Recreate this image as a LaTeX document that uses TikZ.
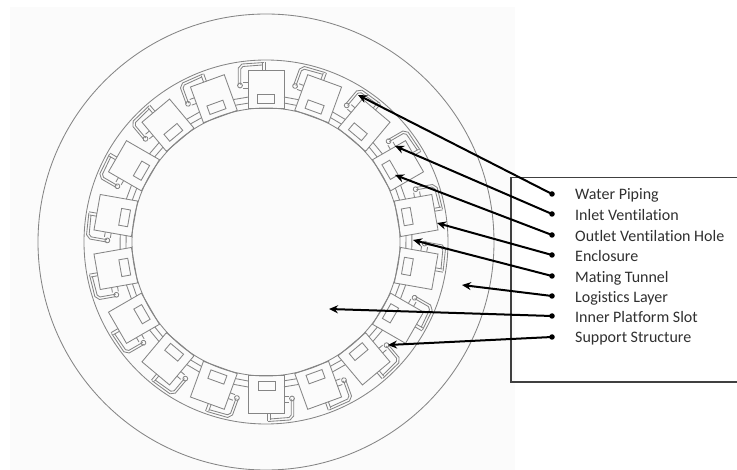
\documentclass[tikz,border=0pt]{standalone}
\usepackage{fontspec}
\setmainfont{Carlito}[Ligatures=NoCommon]
\usetikzlibrary{arrows.meta}
\definecolor{linegray}{HTML}{858585}
\definecolor{inktext}{HTML}{303030}
\definecolor{paneltint}{HTML}{FBFBFB}
\tikzset{
  part/.style={draw=linegray,line width=0.85pt},
  callout/.style={draw=black,line width=2pt,-{Stealth[length=9pt,width=8pt]}},
  dotpin/.style={circle,fill=black,inner sep=0pt,minimum size=5.5pt},
  lab/.style={anchor=base west,inner sep=0pt,font=\fontsize{16}{18}\selectfont,text=inktext},
}
\begin{document}
\begin{tikzpicture}[x=1pt,y=-1pt]
\useasboundingbox (0,0) rectangle (737,470);
\fill[white] (0,0) rectangle (737,470);
\fill[paneltint] (10,7) rectangle (515,470);
\coordinate (c) at (266,242);
\begin{scope}
\clip (0,0) rectangle (737,470);
\draw[part] (c) circle[radius=228pt];
\draw[part] (c) circle[radius=182pt];
\draw[part] (c) circle[radius=134pt];
\end{scope}
\foreach \k in {0,...,17}{
\begin{scope}[shift={(c)},rotate=20*\k]
  % enclosure and hole
  \draw[part] (-18,-171.5) rectangle (18,-133.5);
  \draw[part] (-9,-148) rectangle (8,-139);
  % mating tunnel to next module
  \draw[part] (18,-139) -- (30.5,-136.6);
  \draw[part] (18,-145) -- (32.6,-142.3);
  % water piping
  \draw[part] (-27.7,-157) -- (-27.7,-174) -- (-24,-178) -- (-2,-179.5);
  \draw[part] (-25.3,-157) -- (-25.3,-173) -- (-23,-175.5) -- (-4,-177);
  \draw[part] (-4,-178.5) -- (-4,-171.5);
  \draw[part] (-1,-179.5) -- (-1,-171.5);
  % ventilation fitting
  \draw[part] (-23,-160) -- (-18,-160);
  \draw[part] (-23,-154) -- (-18,-154);
  \draw[part] (-26,-156.5) circle[radius=2.4pt];
\end{scope}
}
% legend box, open toward the right margin
\draw[draw=black!75,line width=1.2pt] (737,177.5) -- (511,177.5) -- (511,382) -- (737,382);
% labels
\node[lab] (l1) at (575,200) {Water Piping};
\node[lab] (l2) at (575,220.5) {Inlet Ventilation};
\node[lab] (l3) at (575,241.5) {Outlet Ventilation Hole};
\node[lab] (l4) at (575,261.5) {Enclosure};
\node[lab] (l5) at (575,282.5) {Mating Tunnel};
\node[lab] (l6) at (575,302.5) {Logistics Layer};
\node[lab] (l7) at (575,322.5) {Inner Platform Slot};
\node[lab] (l8) at (575,343) {Support Structure};
% pins
\node[dotpin] (p1) at (552,194) {};
\node[dotpin] (p2) at (552,214) {};
\node[dotpin] (p3) at (552,235) {};
\node[dotpin] (p4) at (552,255) {};
\node[dotpin] (p5) at (552,276) {};
\node[dotpin] (p6) at (552,296) {};
\node[dotpin] (p7) at (552,316) {};
\node[dotpin] (p8) at (552,337) {};
% targets
\coordinate (t1) at (358,95);
\coordinate (t2) at (395,146);
\coordinate (t3) at (395,175);
\coordinate (t4) at (437,223);
\coordinate (t5) at (413,240);
\coordinate (t6) at (462,285);
\coordinate (t7) at (329,309);
\coordinate (t8) at (388,345);
\foreach \i in {1,...,8}{
  \draw[callout] (p\i.center) -- (t\i);
}
\end{tikzpicture}
\end{document}
